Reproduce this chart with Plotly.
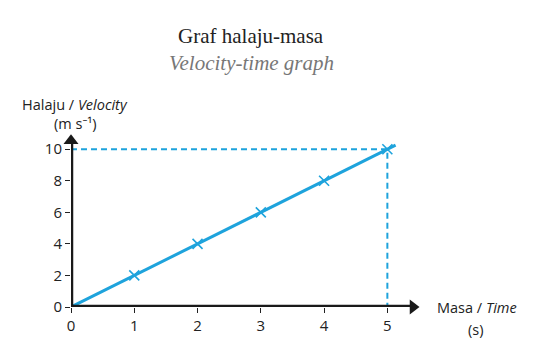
import plotly.graph_objects as go

time_s = [1, 2, 3, 4, 5]
velocity = [2, 4, 6, 8, 10]
x_ticks = [0, 1, 2, 3, 4, 5]
y_ticks = [0, 2, 4, 6, 8, 10]
line_end_t = 5.13

BLUE = "#1ea3dc"
AXC = "#1a1a1a"
SANS = "Open Sans, Noto Sans, sans-serif"
SERIF = "Liberation Serif, Times New Roman, serif"

W, H = 538, 347
L, R, T, B = 71, 119, 135, 34
XR = [0, 5.5]
YR = [0, 10.9]
ppx = (W - L - R) / (XR[1] - XR[0])
ppy = (H - T - B) / (YR[1] - YR[0])

slope = velocity[-1] / time_s[-1]
fig = go.Figure()

# axes lines
fig.add_shape(type="line", x0=0, y0=0, x1=XR[1] - 8 / ppx, y1=0, xref="x", yref="y",
              line=dict(color=AXC, width=4.5), layer="above")
fig.add_shape(type="line", x0=0, y0=0, x1=0, y1=YR[1] - 8 / ppy, xref="x", yref="y",
              line=dict(color=AXC, width=4.5), layer="above")

# best-fit line
fig.add_trace(go.Scatter(x=[0, line_end_t], y=[0, slope * line_end_t], mode="lines",
                         line=dict(color=BLUE, width=3), hoverinfo="skip", cliponaxis=False))
# dashed guides
fig.add_trace(go.Scatter(x=[0, time_s[-1], time_s[-1]], y=[velocity[-1], velocity[-1], 0],
                         mode="lines", line=dict(color=BLUE, width=2, dash="6px,4px"),
                         hoverinfo="skip", cliponaxis=False))
# points
fig.add_trace(go.Scatter(x=time_s, y=velocity, mode="markers", cliponaxis=False,
                         marker=dict(symbol="x-thin-open", size=10, color=BLUE,
                                     line=dict(color=BLUE, width=1.6))))
# arrowheads
fig.add_trace(go.Scatter(x=[XR[1] - 6 / ppx], y=[0], mode="markers", cliponaxis=False,
                         marker=dict(symbol="triangle-right", size=13, color=AXC), hoverinfo="skip"))
fig.add_trace(go.Scatter(x=[0], y=[YR[1] - 6 / ppy], mode="markers", cliponaxis=False,
                         marker=dict(symbol="triangle-up", size=13, color=AXC), hoverinfo="skip"))


def px(xp, yp):
    return (xp - L) / (W - L - R), (H - B - yp) / (H - T - B)


texts = [
    ("Graf halaju-masa", 251, 33, SERIF, 21, "#222"),
    ("<i>Velocity-time graph</i>", 251, 60, SERIF, 21, "#777"),
    ("Halaju / <i>Velocity</i>", 75, 103, SANS, 14.5, "#222"),
    ("(m s\u207b\u00b9)", 75, 123, SANS, 14.5, "#222"),
    ("Masa / <i>Time</i>", 477, 314, SANS, 14.5, "#222"),
    ("(s)", 475, 336, SANS, 14.5, "#222"),
]
for txt, xp, yp, fam, sz, col in texts:
    xx, yy = px(xp, yp)
    fig.add_annotation(x=xx, y=yy, xref="paper", yref="paper", text=txt, showarrow=False,
                       xanchor="center", yanchor="middle",
                       font=dict(family=fam, size=sz, color=col))

fig.update_layout(
    width=W, height=H, margin=dict(l=L, r=R, t=T, b=B),
    paper_bgcolor="white", plot_bgcolor="white", showlegend=False,
    xaxis=dict(range=XR, tickvals=x_ticks, showgrid=False, zeroline=False, showline=False,
               ticks="outside", ticklen=5, tickwidth=1, tickcolor="#222",
               tickfont=dict(family=SANS, size=15, color="#222")),
    yaxis=dict(range=YR, tickvals=y_ticks, showgrid=False, zeroline=False, showline=False,
               ticks="outside", ticklen=5, tickwidth=1, tickcolor="#222",
               tickfont=dict(family=SANS, size=15, color="#222")),
)

fig.write_html("out.html")
